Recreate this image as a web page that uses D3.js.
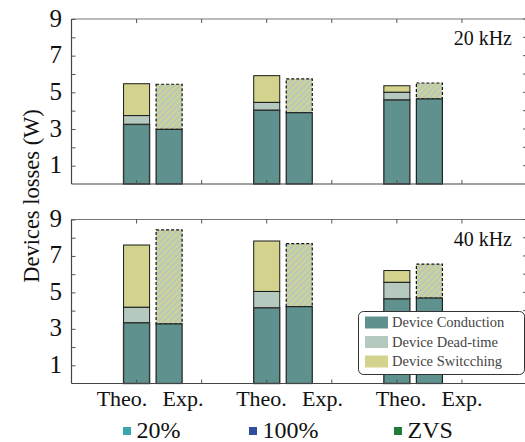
<!DOCTYPE html>
<html>
<head>
<meta charset="utf-8">
<script src="https://cdn.jsdelivr.net/npm/d3@7"></script>
<style>
  body { margin: 0; background: #fff; }
  svg { display: block; }
  svg text { font-family: "Liberation Serif", "Times New Roman", Times, serif; }
</style>
</head>
<body>
<div id="chart"></div>
<script>
// ---- data (W) ----
var methods = ["Theo.", "Exp."];
var panels = ["20 kHz", "40 kHz"];
var yTicks = [1, 2, 3, 4, 5, 6, 7, 8, 9];
var xTicks = [1, 2, 3, 4, 5, 6];

// 20 kHz
var theoConduction20 = [3.25, 4.02, 4.58];
var theoDeadtime20   = [0.48, 0.43, 0.42];
var theoSwitching20  = [1.74, 1.46, 0.36];
var expConduction20  = [2.98, 3.89, 4.64];
var expOther20       = [2.46, 1.84, 0.87];

// 40 kHz
var theoConduction40 = [3.33, 4.15, 4.64];
var theoDeadtime40   = [0.85, 0.90, 0.91];
var theoSwitching40  = [3.42, 2.77, 0.65];
var expConduction40  = [3.27, 4.22, 4.69];
var expOther40       = [5.16, 3.46, 1.86];

var legendNames = ["Device Conduction", "Device Dead-time", "Device Switcching"];
var sweepNames = ["20%", "100%", "ZVS"];

// ---- style ----
var serif = "'Liberation Serif', 'Times New Roman', Times, serif";
var colConduction = "#5f928f";
var colDead = "#b6c9bf";
var colSwitch = "#d3d38e";
var sweepColors = ["#3aa5ac", "#2f4f9e", "#1f7a3b"];

var width = 525, height = 442;
var svg = d3.select("#chart").append("svg")
    .attr("width", width)
    .attr("height", height)
    .attr("font-family", serif);

var defs = svg.append("defs");
var pat = defs.append("pattern")
    .attr("id", "hatch")
    .attr("patternUnits", "userSpaceOnUse")
    .attr("width", 4.2)
    .attr("height", 4.2)
    .attr("patternTransform", "rotate(45)");
pat.append("rect").attr("width", 4.2).attr("height", 4.2).attr("fill", colDead);
pat.append("rect").attr("width", 1.9).attr("height", 4.2).attr("fill", colSwitch);

var left = 71.5, right = 527;
var x = d3.scaleLinear().domain([0, 7]).range([left, right]);
var barW = x(0.4) - x(0);

var panelData = [
    {label: panels[0], top: 19, bottom: 184,
     tc: theoConduction20, td: theoDeadtime20, ts: theoSwitching20,
     ec: expConduction20, eo: expOther20},
    {label: panels[1], top: 219.5, bottom: 383.5,
     tc: theoConduction40, td: theoDeadtime40, ts: theoSwitching40,
     ec: expConduction40, eo: expOther40}
];

panelData.forEach(function(p, pi){
    var y = d3.scaleLinear().domain([0, 9]).range([p.bottom, p.top]);
    var g = svg.append("g");

    // bars
    p.tc.forEach(function(v, i){
        var xt = x(2 * i + 1) - barW / 2;
        var xe = x(2 * i + 1.5) - barW / 2;
        var s1 = v, s2 = v + p.td[i], s3 = s2 + p.ts[i];
        // theoretical stack
        g.append("rect").attr("x", xt).attr("width", barW)
            .attr("y", y(s3)).attr("height", y(s2) - y(s3))
            .attr("fill", colSwitch).attr("stroke", "#1a1a1a").attr("stroke-width", 1);
        g.append("rect").attr("x", xt).attr("width", barW)
            .attr("y", y(s2)).attr("height", y(s1) - y(s2))
            .attr("fill", colDead).attr("stroke", "#1a1a1a").attr("stroke-width", 1);
        g.append("rect").attr("x", xt).attr("width", barW)
            .attr("y", y(s1)).attr("height", y(0) - y(s1))
            .attr("fill", colConduction).attr("stroke", "#333").attr("stroke-width", 1.4);
        // experimental stack
        var e1 = p.ec[i], e2 = e1 + p.eo[i];
        g.append("rect").attr("x", xe).attr("width", barW)
            .attr("y", y(e2)).attr("height", y(e1) - y(e2))
            .attr("fill", "url(#hatch)").attr("stroke", "#111")
            .attr("stroke-width", 1.2).attr("stroke-dasharray", "3,2");
        g.append("rect").attr("x", xe).attr("width", barW)
            .attr("y", y(e1)).attr("height", y(0) - y(e1))
            .attr("fill", colConduction).attr("stroke", "#222").attr("stroke-width", 1.2);
    });

    // frame
    var frame = "#444";
    g.append("line").attr("x1", left).attr("x2", right).attr("y1", p.top).attr("y2", p.top)
        .attr("stroke", "#777").attr("stroke-width", 1);
    g.append("line").attr("x1", left).attr("x2", right).attr("y1", p.bottom).attr("y2", p.bottom)
        .attr("stroke", frame).attr("stroke-width", 1.2);
    g.append("line").attr("x1", left).attr("x2", left).attr("y1", p.top).attr("y2", p.bottom)
        .attr("stroke", frame).attr("stroke-width", 1.2);

    // y axis (inward ticks)
    var yAxis = d3.axisLeft(y).tickValues(yTicks).tickSize(-4).tickPadding(9.5)
        .tickFormat(function(d){ return d % 2 ? d : ""; });
    var ya = g.append("g").attr("transform", "translate(" + left + ",0)").call(yAxis);
    ya.attr("font-family", serif).attr("font-size", 25);
    ya.select(".domain").remove();
    ya.selectAll("line").attr("stroke", "#555");
    ya.selectAll("text").attr("fill", "#111").attr("dy", "0.28em");

    // right ticks
    g.selectAll(".rt").data(yTicks).enter().append("line")
        .attr("x1", right - 4).attr("x2", right)
        .attr("y1", function(d){ return y(d); }).attr("y2", function(d){ return y(d); })
        .attr("stroke", "#555");

    // top/bottom x ticks
    g.selectAll(".tt").data(xTicks).enter().append("line")
        .attr("x1", function(d){ return x(d); }).attr("x2", function(d){ return x(d); })
        .attr("y1", p.top).attr("y2", p.top + 4).attr("stroke", "#555");
    g.selectAll(".bt").data(xTicks).enter().append("line")
        .attr("x1", function(d){ return x(d); }).attr("x2", function(d){ return x(d); })
        .attr("y1", p.bottom).attr("y2", p.bottom - 4).attr("stroke", "#555");

    // frequency label
    g.append("text").attr("x", 512).attr("y", p.top + 26)
        .attr("text-anchor", "end").attr("font-size", 20).attr("fill", "#111")
        .text(p.label);
});

// x labels (placed as a text row under the panel, not exactly under the bars)
var labelX = d3.scaleLinear().domain([0, 2]).range([122, 401]);
[0, 1, 2].forEach(function(i){
    methods.forEach(function(m, j){
        svg.append("text")
            .attr("x", labelX(i) + 61 * j)
            .attr("y", 406)
            .attr("text-anchor", "middle")
            .attr("font-size", 22).attr("fill", "#111")
            .text(m);
    });
});

// y label
svg.append("text")
    .attr("transform", "translate(39,196) rotate(-90)")
    .attr("text-anchor", "middle")
    .attr("font-size", 22.5).attr("fill", "#111")
    .text("Devices losses (W)");

// legend box
var lg = svg.append("g");
lg.append("rect").attr("x", 358.5).attr("y", 311.5).attr("width", 166).attr("height", 63)
    .attr("rx", 5).attr("fill", "#fff").attr("stroke", "#333").attr("stroke-width", 1);
var legCols = [colConduction, colDead, colSwitch];
legendNames.forEach(function(n, i){
    lg.append("rect").attr("x", 365).attr("y", 316.5 + i * 19.5)
        .attr("width", 23).attr("height", 12).attr("fill", legCols[i]);
    lg.append("text").attr("x", 392).attr("y", 327 + i * 19.5)
        .attr("font-size", 14.5).attr("fill", "#444").text(n);
});

// sweep legend at the bottom
var sweepX = [123, 249, 394];
sweepNames.forEach(function(n, i){
    svg.append("rect").attr("x", sweepX[i]).attr("y", 427).attr("width", 8).attr("height", 8)
        .attr("fill", sweepColors[i]);
    svg.append("text").attr("x", sweepX[i] + 13.5).attr("y", 437.5)
        .attr("font-size", 24).attr("fill", "#111").text(n);
});
</script>
</body>
</html>
